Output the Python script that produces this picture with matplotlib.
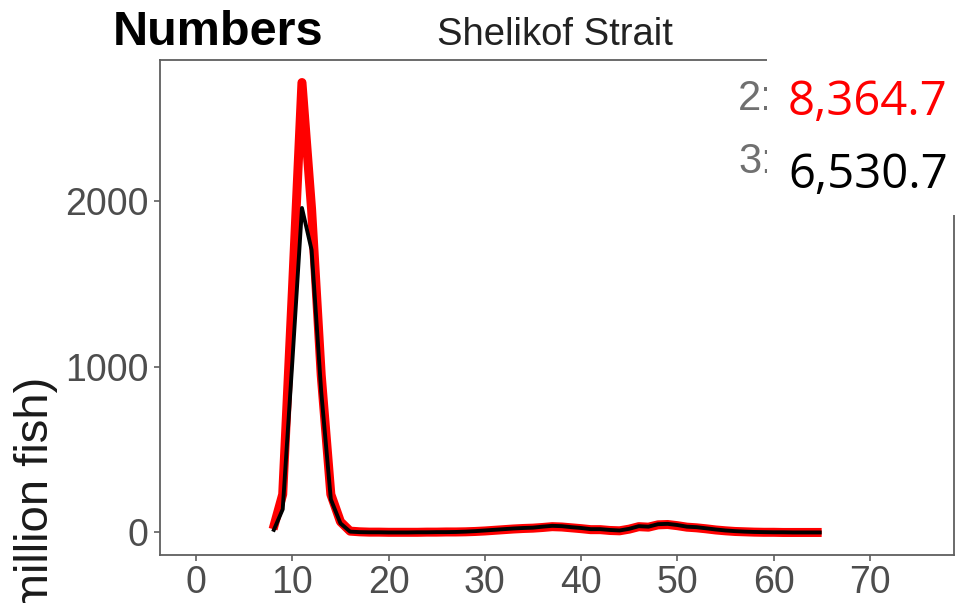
import matplotlib
matplotlib.use("Agg")
import matplotlib.pyplot as plt
from matplotlib.patches import Rectangle

# length (cm) and abundance (million fish)
lengths = list(range(8, 66))
red_vals = [20, 230, 1450, 2715, 1950, 950, 230, 65, 8, 4, 2, 2, 1, 1, 1, 1, 2, 2,
            3, 3, 4, 6, 9, 13, 17, 21, 24, 26, 30, 35, 33, 28, 23, 17, 17, 12,
            10, 20, 35, 32, 46, 48, 41, 32, 28, 22, 15, 10, 6, 4, 2, 1, 1, 0,
            0, 0, 0, 0]
black_vals = [5, 140, 1030, 1958, 1705, 850, 200, 55, 5, 2, 1, 1, 0, 0, 0, 1, 1, 2,
              2, 3, 5, 8, 12, 16, 20, 24, 27, 29, 35, 40, 38, 32, 27, 20, 20, 15,
              12, 22, 38, 35, 50, 52, 45, 35, 32, 25, 18, 12, 8, 5, 3, 2, 1, 1,
              0, 0, 0, 0]
x_ticks = [0, 10, 20, 30, 40, 50, 60, 70]
y_ticks = [0, 1000, 2000]
totals = ["8,364.7", "6,530.7"]
total_colors = ["#ff0000", "#000000"]

W, H = 959, 603
fig = plt.figure(figsize=(W / 100, H / 100), dpi=100)
fig.patch.set_facecolor("white")

def fx(px):
    return px / W

def fy(py):
    return 1 - py / H

ax = fig.add_axes([fx(160), fy(555), fx(954) - fx(160), fy(60) - fy(555)])

ax.plot(lengths, red_vals, color="#ff0000", lw=6.5, solid_joinstyle="round",
        solid_capstyle="butt", zorder=2)
ax.plot(lengths, black_vals, color="#000000", lw=2.8, solid_joinstyle="round",
        solid_capstyle="butt", zorder=3)

ax.set_xlim(-3.75, 78.75)
ax.set_ylim(-136, 2851)
ax.set_xticks(x_ticks)
ax.set_yticks(y_ticks)

grey = "#5f5f5f"
for sp in ax.spines.values():
    sp.set_color(grey)
    sp.set_linewidth(1.3)
ax.tick_params(axis="both", colors=grey, labelcolor="#4d4d4d", length=4.5,
               width=1.2, labelsize=27)
ax.tick_params(axis="y", pad=4)
ax.tick_params(axis="x", pad=3)
for lab in ax.get_xticklabels() + ax.get_yticklabels():
    lab.set_family("Liberation Sans")

# y label, partly cut off by the figure edge (as in the reference)
fig.text(fx(36), fy(377), "Abundance (million fish)", rotation=90,
         ha="center", va="top", fontsize=34, color="#1a1a1a",
         family="Liberation Sans")

# titles
fig.text(fx(113), fy(45), "Numbers", fontsize=35, fontweight="bold",
         color="#000000", family="Liberation Sans", va="baseline")
fig.text(fx(437), fy(45), "Shelikof Strait", fontsize=27.5, color="#222222",
         family="Liberation Sans", va="baseline")

# original grey labels, covered by the white box
fig.text(fx(738), fy(110), "2:", fontsize=30, color="#707070",
         family="Liberation Sans", va="baseline")
fig.text(fx(738), fy(173), "3:", fontsize=30, color="#707070",
         family="Liberation Sans", va="baseline")

box = Rectangle((fx(767), fy(215)), 1 - fx(767), 1 - fy(215),
                transform=fig.transFigure, facecolor="white",
                edgecolor="none", zorder=5)
fig.add_artist(box)

for i, (txt, col) in enumerate(zip(totals, total_colors)):
    fig.text(fx(788), fy(115 + 73 * i), txt, fontsize=34, color=col,
             family="Open Sans", va="baseline", zorder=6)

fig.savefig("out.png", dpi=100)
